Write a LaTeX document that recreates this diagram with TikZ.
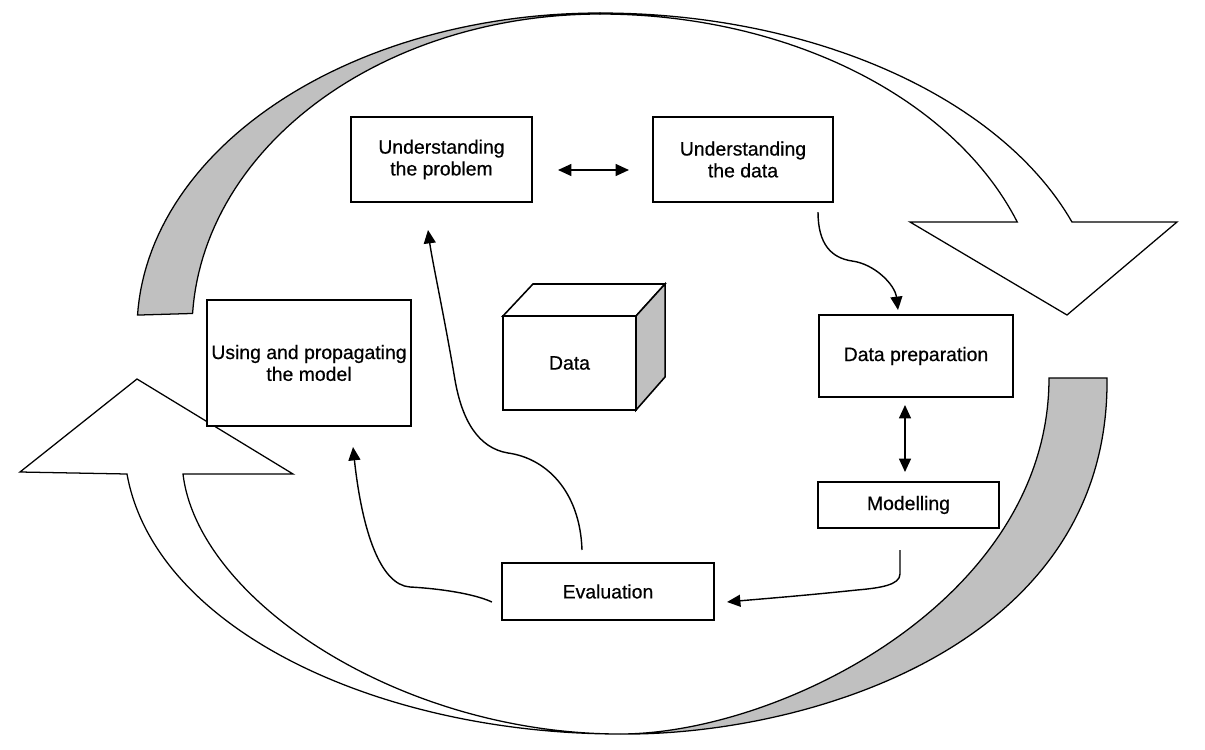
\documentclass[tikz,border=0pt]{standalone}
\usepackage{fontspec}
\setmainfont{Liberation Sans}
\newfontfamily\boxfont{Liberation Sans}[FakeBold=0.5]
\usetikzlibrary{arrows.meta,calc}
\definecolor{bandgray}{RGB}{192,192,192}
\begin{document}
\begin{tikzpicture}[x=0.025cm,y=-0.025cm,
  box/.style={draw, line width=1.1pt, fill=white, inner sep=0pt, outer sep=0pt,
    align=center, font=\boxfont\fontsize{13.8}{15.5}\selectfont},
  band/.style={draw, line width=0.9pt, line join=miter},
  conn/.style={line width=1pt, -{Triangle[length=9.5pt,width=8.5pt]}},
  dbl/.style={line width=1pt, {Triangle[length=9.5pt,width=8.5pt]}-{Triangle[length=9.5pt,width=8.5pt]}}]
\useasboundingbox (0,0) rectangle (1205,750);

% ---- top big arrow: grey back part
\filldraw[band, fill=bandgray]
  plot[domain=182.7:270,samples=60] ({600+463*cos(\x)},{330+317*sin(\x)})
  -- plot[domain=270:183,samples=60] ({600+408*cos(\x)},{330+316*sin(\x)})
  -- cycle;
% ---- top big arrow: white front part with head
\filldraw[band, fill=white]
  plot[domain=270:340.1,samples=60] ({600+502*cos(\x)},{330+317*sin(\x)})
  -- (1177,222) -- (1067,315) -- (910,222)
  -- plot[domain=340:270,samples=60] ({600+444*cos(\x)},{330+316*sin(\x)})
  -- cycle;

% ---- bottom big arrow: grey back part
\filldraw[band, fill=bandgray]
  (1049,378) -- (1107,378)
  .. controls (1110,650) and (800,736) .. (620,734)
  .. controls (780,734) and (1049,600) .. (1049,378)
  -- cycle;
% ---- bottom big arrow: white front part with head
\filldraw[band, fill=white]
  (620,734) .. controls (380,734) and (155,630) .. (127,474)
  -- (20,472) -- (137,379) -- (293,474) -- (183,474)
  .. controls (198,600) and (400,734) .. (620,734)
  -- cycle;

% ---- boxes
\node[box, minimum width=4.525cm, minimum height=2.125cm] (up) at (441.5,159.5) {Understanding\\the problem};
\node[box, minimum width=4.5cm, minimum height=2.125cm] (ud) at (743,159.5) {Understanding\\the data};
\node[box, minimum width=5.1cm, minimum height=3.15cm] (um) at (309,363) {Using and propagating\\the model};
\node[box, minimum width=4.85cm, minimum height=2.05cm] (dp) at (916,356) {Data preparation};
\node[box, minimum width=4.525cm, minimum height=1.15cm] (mo) at (908.5,505) {Modelling};
\node[box, minimum width=5.3cm, minimum height=1.425cm] (ev) at (608,591.5) {Evaluation};

% ---- data cube
\node[box, minimum width=3.325cm, minimum height=2.35cm] (cube) at (569.5,363) {Data};
\draw[line width=1.1pt, fill=white, line join=miter] (cube.north west) -- ++(30,-32) -- ++(132,0) -- (cube.north east) -- cycle;
\draw[line width=1.1pt, fill=bandgray, line join=miter] (cube.north east) -- ++(29,-32) -- ++(0,93) -- (cube.south east) -- cycle;

% ---- connectors
\draw[dbl] ([shift={(26,10.5)}]up.east) -- ([shift={(-24,10.5)}]ud.west);
\draw[conn] ([shift={(-15,10)}]ud.south east) .. controls (818,245) and (832,258) .. (852,261)
  .. controls (875,264) and (895,285) .. ([shift={(-18,-5)}]dp.north);
\draw[dbl] ([shift={(-11,8)}]dp.south) -- ([shift={(-3.5,-10)}]mo.north);
\draw[conn] ([shift={(-8.5,22)}]mo.south) -- (900,574) .. controls (900,585) and (880,588) .. (857,590)
  .. controls (800,596) and (760,599) .. ([shift={(13,10.5)}]ev.east);
\draw[conn] ([shift={(-26,-13)}]ev.north) .. controls (580,490) and (545,458) .. (508,453)
  .. controls (478,448) and (462,420) .. (455,380)
  .. controls (445,320) and (432,260) .. ([shift={(-13.5,28)}]up.south);
\draw[conn] ([shift={(-10,10.5)}]ev.west) .. controls (470,592) and (430,588) .. (410,587)
  .. controls (380,585) and (362,530) .. ([shift={(44,21)}]um.south);
\end{tikzpicture}
\end{document}
